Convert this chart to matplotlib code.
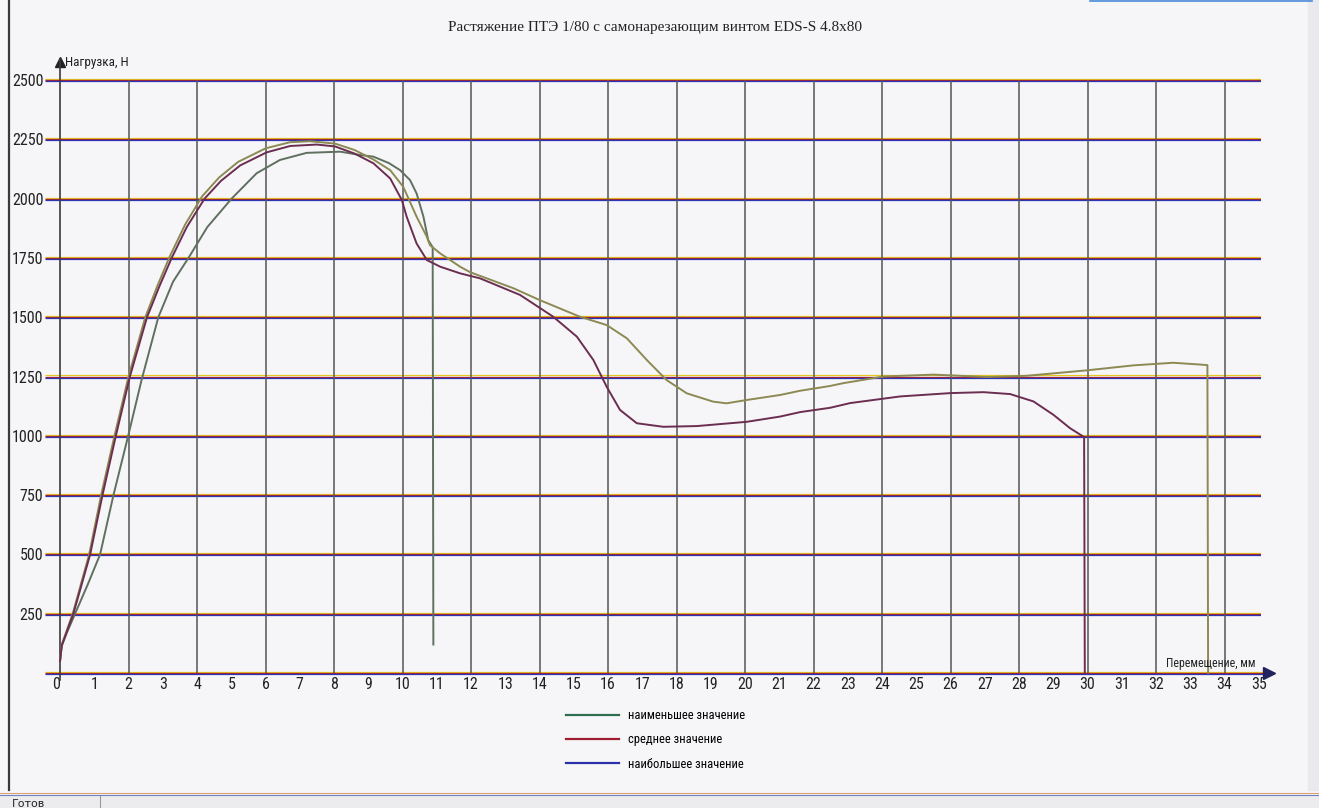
import matplotlib
matplotlib.use("Agg")
import matplotlib.pyplot as plt
from matplotlib import transforms, font_manager
from matplotlib.lines import Line2D
from matplotlib.patches import Rectangle

# ---------------- data ----------------
title = "Растяжение ПТЭ 1/80 с самонарезающим винтом EDS-S 4.8x80"
y_label = "Нагрузка, Н"
x_label = "Перемещение, мм"
legend_labels = ["наименьшее значение", "среднее значение", "наибольшее значение"]

x_ticks = list(range(0, 36))
x_minor = list(range(1, 36, 2))
x_grid = list(range(2, 35, 2))
y_ticks = [250, 500, 750, 1000, 1250, 1500, 1750, 2000, 2250, 2500]
y_grid = [0] + y_ticks

# sample that breaks at ~10.9 mm
short_x = [0, 0.05, 0.2, 0.44, 0.8, 1.17, 1.56, 1.99, 2.38, 2.87, 3.3, 3.75, 4.3,
           5.01, 5.74, 6.42, 7.2, 8.18, 8.76, 9.15, 9.6, 9.93, 10.22, 10.41, 10.61,
           10.75, 10.88, 10.9]
short_y = [50, 115, 170, 250, 370, 500, 750, 1000, 1235, 1500, 1650, 1750, 1880,
           2000, 2107, 2163, 2193, 2198, 2184, 2177, 2150, 2120, 2078, 2022, 1924,
           1825, 1795, 120]

# sample that breaks at ~29.9 mm
mid_x = [0, 0.05, 0.39, 0.88, 1.24, 1.63, 2.04, 2.54, 2.9, 3.26, 3.7, 4.22, 4.7,
         5.26, 6.03, 6.72, 7.5, 8.03, 8.6, 9.15, 9.64, 9.98, 10.12, 10.41, 10.71,
         11.1, 11.68, 12.26, 13.43, 14.4, 15.09, 15.57, 15.96, 16.35, 16.84, 17.61,
         18.59, 20.05, 21.02, 21.61, 22.48, 23.07, 24.53, 25.99, 26.96, 27.74, 28.42,
         29.0, 29.49, 29.83, 29.9, 29.92]
mid_y = [50, 115, 250, 500, 750, 1000, 1250, 1500, 1630, 1750, 1880, 2000, 2075,
         2140, 2195, 2222, 2228, 2220, 2190, 2149, 2085, 1994, 1924, 1811, 1741,
         1713, 1685, 1664, 1594, 1502, 1418, 1320, 1207, 1109, 1053, 1038,
         1041, 1059, 1081, 1100, 1118, 1138, 1166, 1180, 1184, 1176, 1145,
         1089, 1032, 1001, 995, 0]

# sample that breaks at ~33.5 mm
long_x = [0, 0.05, 0.37, 0.85, 1.2, 1.59, 2.0, 2.49, 2.85, 3.2, 3.65, 4.15, 4.65,
          5.2, 6.0, 6.72, 7.3, 8.03, 8.6, 9.15, 9.64, 10.02, 10.41, 10.71, 10.8,
          11.1, 11.68, 11.97, 13.24, 14.01, 15.18, 15.96, 16.55, 17.13, 17.71, 18.3,
          19.07, 19.46, 20.05, 21.02, 21.61, 22.48, 22.87, 24.04, 25.5, 27.06, 28.22,
          29.98, 31.34, 32.5, 33.33, 33.5, 33.52]
long_y = [50, 120, 250, 500, 750, 1000, 1250, 1500, 1635, 1755, 1890, 2010, 2090,
          2155, 2212, 2238, 2242, 2232, 2205, 2165, 2120, 2050, 1924, 1839, 1804,
          1769, 1713, 1690, 1622, 1572, 1502, 1467, 1411, 1320, 1235, 1179,
          1144, 1137, 1151, 1172, 1190, 1210, 1222, 1250, 1258, 1248, 1253,
          1276, 1297, 1308, 1300, 1298, 0]

# ---------------- style ----------------
BG = "#f6f6f9"
entries = font_manager.fontManager.ttflist
names = {f.name for f in entries}
NARROW, STRETCH, TICK_FS = None, "normal", 9.5
for pref in ["Liberation Sans Narrow", "Arial Narrow", "Roboto Condensed",
             "Open Sans Condensed", "Noto Sans Condensed", "DejaVu Sans Condensed"]:
    if pref in names:
        NARROW, TICK_FS = pref, 11.5
        break
if NARROW is None:
    for f in entries:
        if ("Narrow" in f.name or "Condensed" in f.name) and "CJK" not in f.name:
            NARROW, TICK_FS = f.name, 11.5
            break
if NARROW is None:
    for f in entries:
        if f.name == "DejaVu Sans" and str(f.stretch) in ("condensed", "semi-condensed"):
            NARROW, STRETCH, TICK_FS = "DejaVu Sans", "condensed", 10.5
            break
if NARROW is None:
    NARROW = "Liberation Sans" if "Liberation Sans" in names else "DejaVu Sans"
SERIF = "Liberation Serif" if "Liberation Serif" in names else "DejaVu Serif"
plt.rcParams["font.family"] = [NARROW, "DejaVu Sans"]
plt.rcParams["font.stretch"] = STRETCH

W, H = 1319, 808
fig = plt.figure(figsize=(W / 100, H / 100), dpi=100, facecolor=BG)

XMIN, XMAX = -0.45, 35.05
YMIN, YMAX = -60, 2590
ax = fig.add_axes([0.03383, 0.14950, 0.92182, 0.77785])
ax.set_xlim(XMIN, XMAX)
ax.set_ylim(YMIN, YMAX)
ax.set_facecolor(BG)
ax.patch.set_alpha(0)

for s in ["top", "right"]:
    ax.spines[s].set_visible(False)
ax.spines["bottom"].set_position(("data", 0))
ax.spines["bottom"].set_linewidth(0)
ax.spines["left"].set_position(("data", 0))
ax.spines["left"].set_color("#3a3a3a")
ax.spines["left"].set_linewidth(1.2)
ax.spines["left"].set_bounds(-30, YMAX)

ax.set_xticks(x_ticks)
ax.set_xticklabels([str(v) for v in x_ticks])
ax.set_xticks(x_minor, minor=True)
ax.set_yticks(y_ticks)
ax.set_yticklabels([str(v) for v in y_ticks])
ax.tick_params(axis="x", which="major", length=0, pad=3, labelsize=TICK_FS, labelcolor="#222")
ax.tick_params(axis="x", which="minor", direction="inout", length=8, width=1, color="#333")
ax.tick_params(axis="y", which="major", length=0, pad=12, labelsize=TICK_FS, labelcolor="#222")
ax.get_xticklabels()[0].set_ha("right")

# horizontal grid lines with scanner colour fringes
fringes = [(1.1, "#e6c81e"), (0.0, "#a82036"), (-1.1, "#2a36b4")]
for dy, c in fringes:
    tr = transforms.offset_copy(ax.transData, fig=fig, y=dy, units="dots")
    ax.hlines(y_grid, XMIN, XMAX, colors=c, linewidth=0.9, transform=tr, zorder=1)
# x axis continuation + arrow
for dy, c in fringes:
    tr = transforms.offset_copy(ax.transData, fig=fig, y=dy, units="dots")
    ax.plot([XMAX, 35.3], [0, 0], color=c, lw=0.9, transform=tr, clip_on=False, zorder=1)
ax.plot([35.3], [0], marker=">", ms=9, color="#22225e", clip_on=False, zorder=2)
ax.plot([0], [2575], marker="^", ms=7, color="#222", clip_on=False, zorder=2)

# vertical grid lines
ax.vlines(x_grid, 0, 2500, colors="#555555", linewidth=1.1, zorder=1)

# curves
ax.plot(short_x, short_y, color="#5f6f60", lw=1.4, zorder=3)
ax.plot(mid_x, mid_y, color="#6b2d50", lw=1.4, zorder=4)
ax.plot(long_x, long_y, color="#8c8a52", lw=1.4, zorder=3)

# axis labels
ax.text(0.15, 2573, y_label, ha="left", va="center", fontsize=9.5, color="#222", clip_on=False)
ax.text(34.9, 42, x_label, ha="right", va="center", fontsize=8.5, color="#222", clip_on=False)

# title
fig.text(655 / W, 1 - 28 / H, title, ha="center", va="center", fontsize=11,
         family=[SERIF, "DejaVu Serif"], stretch="normal", color="#222")

# legend
leg_colors = ["#2e6e50", "#a01c30", "#2a30a8"]
handles = [Line2D([0], [0], color=c, lw=1.6) for c in leg_colors]
fig.legend(handles, legend_labels, loc="upper left", bbox_to_anchor=(566 / W, 1 - 709 / H),
           frameon=False, fontsize=9, handlelength=4.2, handletextpad=0.8,
           labelspacing=0.9, borderpad=0, borderaxespad=0)

# window chrome (scan of program window)
fig.add_artist(Line2D([8.5 / W, 8.5 / W], [1, 1 - 790 / H], transform=fig.transFigure,
                      color="#3a3a3a", lw=1.6))
fig.add_artist(Line2D([0, 1], [1 - 793 / H, 1 - 793 / H], transform=fig.transFigure,
                      color="#e0a070", lw=0.8))
fig.add_artist(Line2D([0, 1], [1 - 794.5 / H, 1 - 794.5 / H], transform=fig.transFigure,
                      color="#7080c0", lw=0.8))
fig.add_artist(Rectangle((0, 0), 1, 1 - 796 / H, transform=fig.transFigure,
                         color="#ececef", zorder=0))
fig.add_artist(Line2D([100 / W, 100 / W], [0, 1 - 796 / H], transform=fig.transFigure,
                      color="#999", lw=0.8))
fig.text(12 / W, 1 - 799 / H, "Готов", ha="left", va="top", fontsize=8, color="#222",
         family=["DejaVu Sans"], stretch="normal")
fig.add_artist(Line2D([1090 / W, 1312 / W], [1 - 1 / H, 1 - 1 / H], transform=fig.transFigure,
                      color="#4a8ad8", lw=1.2))
fig.add_artist(Rectangle((1308 / W, 1 - 790 / H), 11 / W, 790 / H, transform=fig.transFigure,
                         color="#eaeaee", zorder=0))

fig.savefig("out.png", dpi=100, facecolor=BG)
